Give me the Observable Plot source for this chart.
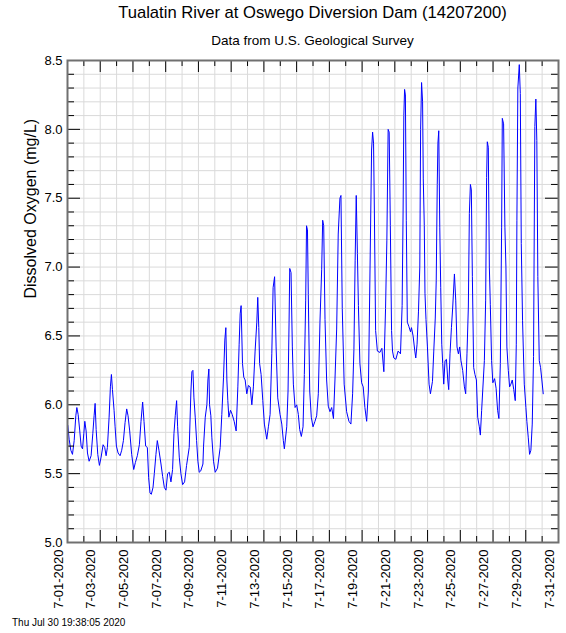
<!DOCTYPE html>
<html><head><meta charset="utf-8">
<script src="https://cdn.jsdelivr.net/npm/d3@7"></script>
<script src="https://cdn.jsdelivr.net/npm/@observablehq/plot@0.6"></script>
<style>
body{margin:0;background:#fff;font-family:"Liberation Sans",Arial,Helvetica,sans-serif;}
#wrap{position:relative;width:566px;height:633px;overflow:hidden;}
.t{position:absolute;white-space:nowrap;color:#000;line-height:1;}
</style></head><body><div id="wrap"></div>
<script>
// Hours since 2020-07-01 00:00 and dissolved oxygen (mg/L)
const hours = [0.5,2.4,4.9,7.3,9.8,12.2,13.7,15.6,18.0,20.0,22.0,23.9,25.4,27.3,29.3,31.7,34.6,37.1,39.0,40.5,42.0,44.4,46.8,49.3,52.2,54.6,56.6,58.5,61.0,62.9,64.4,65.9,68.3,69.8,71.7,74.2,77.1,79.5,82.0,84.4,86.8,88.8,91.2,94.1,97.1,99.5,102.4,105.4,107.8,110.2,112.2,114.6,117.1,119.0,121.0,122.9,125.4,127.3,129.7,131.7,134.1,137.1,139.5,142.0,144.4,146.8,149.3,151.7,154.1,156.1,158.0,160.0,161.5,163.9,166.3,168.8,171.7,174.6,178.5,
181.0,182.4,183.9,185.4,187.3,189.3,191.2,193.2,195.4,198.6,199.5,202.0,204.4,205.9,207.3,208.3,210.2,211.7,214.1,216.6,220.0,223.9,226.3,228.8,230.7,232.2,233.7,235.1,236.6,239.0,241.5,244.4,247.3,249.8,251.7,253.2,254.6,256.6,258.5,260.5,262.9,265.3,267.8,270.3,272.6,275.1,277.6,279.0,280.5,281.7,283.9,286.4,288.7,292.2,294.6,297.1,299.6,301.5,303.7,305.9,308.3,311.7,314.2,316.5,318.0,321.5,323.4,324.9,325.9,327.8,329.7,331.2,333.7,336.1,338.5,340.5,342.9,345.4,347.3,349.3,350.5,351.9,353.1,355.2,357.5,360.0,362.9,365.4,367.8,370.2,372.7,374.2,375.7,377.6,380.0,382.4,384.9,387.4,390.0,392.2,394.7,397.0,399.5,401.0,402.9,405.7,409.3,412.7,415.6,418.1,420.0,421.8,423.4,425.1,426.6,428.8,431.3,433.6,436.1,438.7,441.2,443.4,445.9,447.4,448.8,450.0,451.8,454.4,458.0,461.0,463.9,466.4,468.3,470.2,471.7,473.4,475.2,476.6,478.5,481.5,484.8,488.3,490.7,492.1,493.2,494.3,495.5,496.8,498.3,500.5,503.0,504.4,506.8,509.3,510.7,512.6,514.7,516.6,517.8,519.2,520.7,521.7,523.2,524.2,525.7,527.8,530.2,532.2,535.2,537.1,539.3,540.7,542.2,543.2,544.4,545.9,547.3,548.8,550.2,551.7,553.6,555.7,557.6,559.0,560.9,563.0,564.9,567.4,569.3,571.2,573.2,575.1,577.0,579.5,582.0,583.9,585.8,587.8,589.3,590.8,592.2,593.7,595.6,597.5,599.6,601.5,603.9,605.4,607.3,611.3,613.2,614.6,615.6,617.1,618.6,620.0,621.9,623.7,626.3,628.5,630.7,632.6,634.7,636.6,637.6,639.5,641.4,642.9,644.3,646.4,648.3,650.2,652.2,654.4,656.6,658.1,659.0,660.4,662.5,664.0,665.4,667.3,669.8,672.2,673.6,675.7,677.6,679.5,681.5,683.4,685.3,686.8,688.2,689.7,691.8,693.7,695.6,697.6];
const oxygen = [5.85,5.75,5.67,5.64,5.74,5.92,5.98,5.93,5.81,5.70,5.68,5.79,5.88,5.81,5.65,5.59,5.63,5.79,5.92,6.01,5.82,5.64,5.56,5.62,5.71,5.69,5.63,5.69,5.91,6.13,6.22,6.11,5.96,5.84,5.70,5.65,5.63,5.67,5.74,5.87,5.97,5.92,5.81,5.64,5.53,5.58,5.63,5.71,5.88,6.02,5.88,5.70,5.69,5.47,5.36,5.35,5.40,5.50,5.64,5.74,5.67,5.57,5.48,5.40,5.38,5.50,5.51,5.44,5.53,5.79,5.92,6.03,5.84,5.62,5.50,5.42,5.44,5.56,5.69,
6.10,6.24,6.25,6.05,5.91,5.74,5.59,5.51,5.52,5.57,5.70,5.91,6.00,6.18,6.26,6.00,5.92,5.76,5.59,5.51,5.54,5.69,5.93,6.20,6.47,6.56,6.18,6.03,5.91,5.96,5.93,5.88,5.81,6.13,6.44,6.66,6.72,6.30,6.20,6.18,6.08,6.14,6.13,6.00,6.13,6.39,6.60,6.78,6.56,6.30,6.22,6.03,5.86,5.75,5.84,5.93,6.37,6.85,6.93,6.42,6.05,5.93,5.86,5.74,5.68,5.84,6.10,6.60,6.99,6.96,6.42,6.15,5.98,6.00,5.93,5.82,5.77,5.84,6.22,6.76,7.30,7.27,6.80,6.10,5.91,5.84,5.88,5.92,6.08,6.60,6.98,7.34,7.30,6.62,6.18,5.99,5.95,5.98,5.90,6.18,6.55,7.24,7.50,7.52,6.70,6.15,5.95,5.88,5.86,6.08,6.40,7.05,7.52,7.10,6.72,6.30,6.16,6.13,5.98,5.88,6.10,6.90,7.85,7.98,7.90,7.40,6.54,6.39,6.38,6.41,6.24,6.70,7.19,8.00,7.98,7.30,6.54,6.39,6.34,6.33,6.39,6.37,6.72,7.40,8.10,8.29,8.25,7.34,6.60,6.57,6.53,6.56,6.50,6.39,6.34,6.44,6.68,7.00,8.00,8.34,8.20,7.64,7.30,6.81,6.62,6.42,6.15,6.08,6.17,6.39,6.63,6.90,7.60,7.90,7.99,7.29,6.85,6.44,6.30,6.15,6.32,6.33,6.18,6.11,6.37,6.56,6.71,6.95,6.76,6.42,6.37,6.42,6.32,6.25,6.13,6.08,6.37,6.71,7.39,7.60,7.56,6.93,6.27,6.22,6.18,5.91,5.84,5.78,5.96,6.32,6.76,7.65,7.91,7.87,7.00,6.73,6.32,6.16,6.19,6.12,5.96,5.90,6.30,7.29,8.08,8.04,7.29,7.00,6.42,6.25,6.13,6.15,6.18,6.11,6.03,6.44,7.34,8.30,8.47,8.26,7.17,6.61,6.15,5.98,5.88,5.76,5.64,5.67,5.86,6.35,8.02,8.22,7.92,6.93,6.32,6.27,6.18,6.08];

const xTickLabels = ["7-01-2020","7-03-2020","7-05-2020","7-07-2020","7-09-2020","7-11-2020","7-13-2020","7-15-2020","7-17-2020","7-19-2020","7-21-2020","7-23-2020","7-25-2020","7-27-2020","7-29-2020","7-31-2020"];
const yTickLabels = ["5.0","5.5","6.0","6.5","7.0","7.5","8.0","8.5"];

const titleText = "Tualatin River at Oswego Diversion Dam (14207200)";
const subtitleText = "Data from U.S. Geological Survey";
const yLabelText = "Dissolved Oxygen (mg/L)";
const stampText = "Thu Jul 30 19:38:05 2020";

const t0 = Date.UTC(2020, 6, 1);
const data = hours.map((h, i) => ({date: new Date(t0 + h * 3600000), value: oxygen[i]}));
const labelDate = s => { const [m, d, y] = s.split("-").map(Number); return new Date(Date.UTC(y, m - 1, d)); };
const majorDays = xTickLabels.map(labelDate);
const start = majorDays[0], end = majorDays[majorDays.length - 1];
const allDays = d3.utcDay.range(start, d3.utcDay.offset(end, 1));
const minorDays = allDays.filter(d => !majorDays.some(m => +m === +d));
const yMajor = yTickLabels.map(Number);
const yAll = d3.range(50, 86).map(v => v / 10);
const yMinor = yAll.filter(v => !yMajor.some(m => Math.abs(m - v) < 1e-9));

const W = 566, H = 633, mL = 67, mR = 8, mT = 60, mB = 91;
const pW = W - mL - mR, pH = H - mT - mB;
const grid = "#dadada";

const chart = Plot.plot({
  width: W, height: H,
  marginLeft: mL, marginRight: mR, marginTop: mT, marginBottom: mB,
  style: {fontFamily: "'Liberation Sans', Arial, sans-serif", background: "#fff", color: "#000"},
  x: {type: "utc", domain: [start, end], axis: null},
  y: {domain: [5, 8.5], axis: null},
  marks: [
    Plot.ruleX(allDays.slice(1, -1), {stroke: grid, strokeWidth: 1}),
    Plot.ruleY(yAll.slice(1, -1), {stroke: grid, strokeWidth: 1}),
    Plot.line(data, {x: "date", y: "value", stroke: "#0000ff", strokeWidth: 1}),
    // inward ticks
    Plot.ruleX(majorDays, {insetTop: pH - 12, stroke: "#000"}),
    Plot.ruleX(minorDays, {insetTop: pH - 6, stroke: "#000"}),
    Plot.ruleX(majorDays, {insetBottom: pH - 12, stroke: "#000"}),
    Plot.ruleX(minorDays, {insetBottom: pH - 6, stroke: "#000"}),
    Plot.ruleY(yMajor, {insetRight: pW - 13, stroke: "#000"}),
    Plot.ruleY(yMinor, {insetRight: pW - 7, stroke: "#000"}),
    Plot.ruleY(yMajor, {insetLeft: pW - 13, stroke: "#000"}),
    Plot.ruleY(yMinor, {insetLeft: pW - 7, stroke: "#000"}),
    Plot.frame({stroke: "#707070", strokeWidth: 2}),
    // tick labels
    Plot.text(yMajor, {y: d => d, text: (d, i) => yTickLabels[i], frameAnchor: "left", textAnchor: "end", dx: -5, fontSize: 13, fill: "#000"}),
    Plot.text(majorDays, {x: d => d, text: (d, i) => xTickLabels[i], frameAnchor: "bottom", textAnchor: "end", rotate: -90, dx: -5, dy: 7, fontSize: 13, fill: "#000"}),
    Plot.text([yLabelText], {text: d => d, frameAnchor: "left", rotate: -90, dx: -37, dy: -3, fontSize: 16, fill: "#000"})
  ]
});

const wrap = document.getElementById("wrap");
wrap.appendChild(chart);
function addText(txt, css) {
  const d = document.createElement("div");
  d.className = "t"; d.textContent = txt;
  Object.assign(d.style, css);
  wrap.appendChild(d);
}
addText(titleText, {left: mL + "px", width: pW + "px", textAlign: "center", top: "5px", fontSize: "16.6px"});
addText(subtitleText, {left: mL + "px", width: pW + "px", textAlign: "center", top: "34px", fontSize: "13.5px"});
addText(stampText, {left: "12px", top: "618px", fontSize: "10px"});
</script></body></html>
